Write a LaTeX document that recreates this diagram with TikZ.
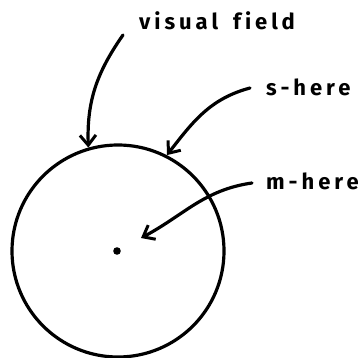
\documentclass[tikz,border=0pt]{standalone}
\usepackage{fontspec}
\setmainfont[LetterSpace=18, Ligatures={NoCommon}]{Fira Sans}
\usetikzlibrary{positioning,arrows.meta}
\tikzset{
  field/.style={circle, draw, line width=3.2pt, minimum size=212pt, inner sep=0pt},
  tag/.style={font=\fontsize{22}{24}\selectfont\bfseries, inner sep=1pt, anchor=west},
  pointer/.style={-{Straight Barb[length=10pt, width=16pt, line width=3pt]}, line width=3.2pt, line cap=round},
}
\begin{document}
\begin{tikzpicture}[x=1pt, y=1pt]
\useasboundingbox (0,0) rectangle (358,358);
\node[field] (vf) at (118,107) {};
\fill (117,107) circle (3.8pt) coordinate (me);
\node[tag] (vflab) at (138,337) {visual\hspace{6pt} field};
\node[tag] (slab) at (265,271) {s-here};
\node[tag] (mlab) at (265,177) {m-here};
\coordinate (vftail) at (123,323);
\coordinate (stail) at (250,270);
\coordinate (mtail) at (252,175);
\coordinate (mtip) at (141,120);
\draw[pointer] (vftail) to[out=235, in=92] (vf.106);
\draw[pointer] (stail) to[out=195, in=52] (vf.63);
\draw[pointer] (mtail) to[out=188, in=28] (mtip);
\end{tikzpicture}
\end{document}
